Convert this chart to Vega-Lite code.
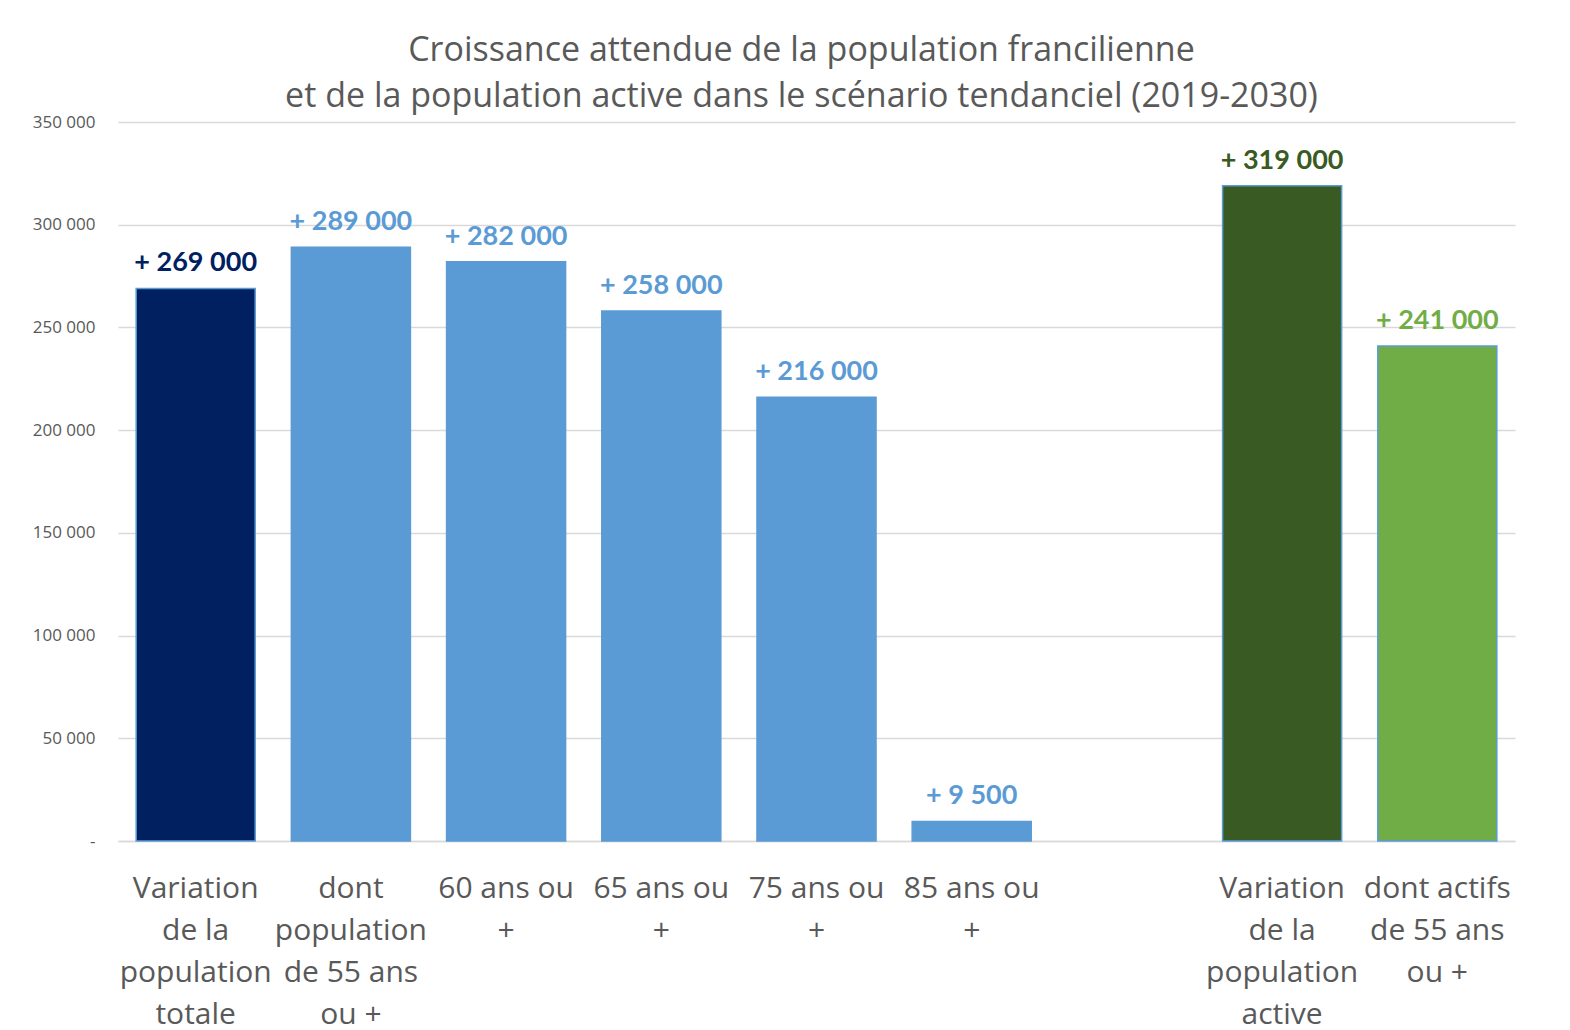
{
  "$schema": "https://vega.github.io/schema/vega-lite/v6.json",
  "autosize": "none",
  "width": 1397,
  "height": 719,
  "padding": {"left": 118, "top": 122, "right": 55, "bottom": 189},
  "background": "white",
  "title": {
    "text": ["Croissance attendue de la population francilienne", "et de la population active dans le scénario tendanciel (2019-2030)"],
    "font": "Open Sans",
    "fontSize": 34,
    "fontWeight": "normal",
    "color": "#595959",
    "lineHeight": 46,
    "anchor": "middle",
    "dx": -15,
    "offset": -1
  },
  "data": {
    "values": [
      {"cat": "Variation|de la|population|totale", "value": 269000, "label": "+ 269 000", "group": "total"},
      {"cat": "dont|population|de  55 ans|ou +", "value": 289000, "label": "+ 289 000", "group": "sub"},
      {"cat": "60 ans ou|+", "value": 282000, "label": "+ 282 000", "group": "sub"},
      {"cat": "65 ans ou|+", "value": 258000, "label": "+ 258 000", "group": "sub"},
      {"cat": "75 ans ou|+", "value": 216000, "label": "+ 216 000", "group": "sub"},
      {"cat": "85 ans ou|+", "value": 9500, "label": "+ 9 500", "group": "sub"},
      {"cat": "Variation|de la|population|active", "value": 319000, "label": "+ 319 000", "group": "actifs"},
      {"cat": "dont actifs|de 55 ans|ou +", "value": 241000, "label": "+ 241 000", "group": "actifs55"}
    ]
  },
  "encoding": {
    "x": {
      "field": "cat",
      "type": "nominal",
      "sort": null,
      "scale": {
        "domain": ["Variation|de la|population|totale", "dont|population|de  55 ans|ou +", "60 ans ou|+", "65 ans ou|+", "75 ans ou|+", "85 ans ou|+", " ", "Variation|de la|population|active", "dont actifs|de 55 ans|ou +"],
        "paddingInner": 0.233,
        "paddingOuter": 0.117
      },
      "axis": {
        "title": null,
        "labelAngle": 0,
        "labelExpr": "split(datum.label, '|')",
        "labelFont": "Open Sans",
        "labelFontSize": 30,
        "labelColor": "#595959",
        "labelLineHeight": 42,
        "labelPadding": 32,
        "labelLimit": 400,
        "labelOverlap": false,
        "ticks": false,
        "domainColor": "#d9d9d9",
        "domainWidth": 1.5,
        "grid": false
      }
    },
    "y": {
      "field": "value",
      "type": "quantitative",
      "scale": {"domain": [0, 350000], "nice": false},
      "axis": {
        "title": null,
        "values": [0, 50000, 100000, 150000, 200000, 250000, 300000, 350000],
        "labelExpr": "datum.value == 0 ? '-\u00a0\u00a0\u00a0' : replace(format(datum.value, ','), ',', ' ')",
        "labelFont": "Open Sans",
        "labelFontSize": 17,
        "labelColor": "#595959",
        "labelPadding": 23,
        "ticks": false,
        "domain": false,
        "gridColor": "#d9d9d9",
        "gridWidth": 1.5
      }
    },
    "color": {
      "field": "group",
      "type": "nominal",
      "scale": {
        "domain": ["total", "sub", "actifs", "actifs55"],
        "range": ["#002060", "#5B9BD5", "#3A5A23", "#70AD47"]
      },
      "legend": null
    }
  },
  "layer": [
    {
      "mark": {"type": "bar", "stroke": "#5B9BD5", "strokeWidth": 1.5}
    },
    {
      "mark": {
        "type": "text",
        "font": "Lato",
        "fontSize": 27,
        "fontWeight": "bold",
        "baseline": "alphabetic",
        "align": "center",
        "dy": -17
      },
      "encoding": {
        "text": {"field": "label"}
      }
    }
  ],
  "config": {
    "view": {"stroke": null}
  }
}
